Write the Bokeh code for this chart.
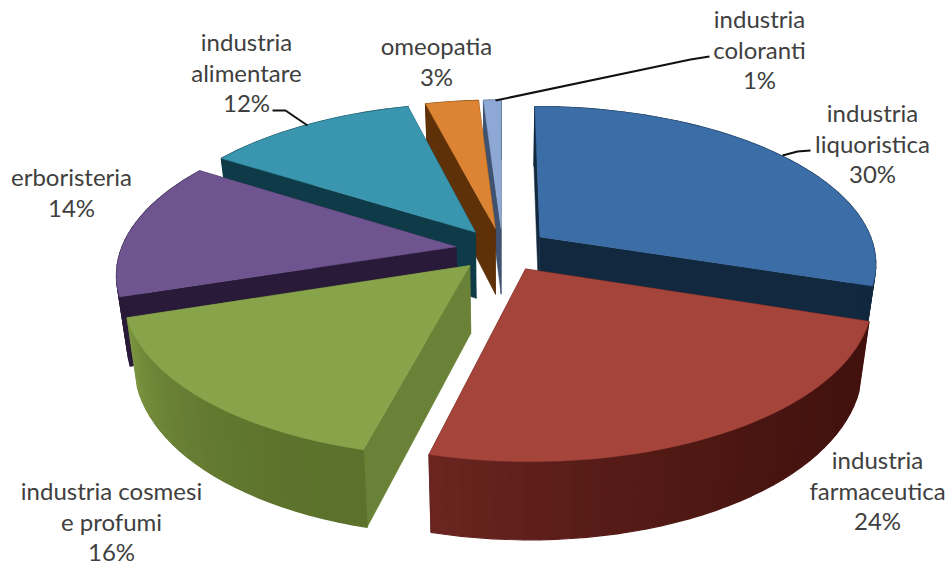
from math import sin, cos, pi

from bokeh.core.properties import value
from bokeh.embed import file_html
from bokeh.models import ColumnDataSource, Range1d
from bokeh.plotting import figure
from bokeh.resources import INLINE

# Shares of each sector, clockwise from twelve o'clock
sectors = ["industria liquoristica", "industria farmaceutica", "industria cosmesi e profumi",
           "erboristeria", "industria alimentare", "omeopatia", "industria coloranti"]
shares = [30, 24, 16, 14, 12, 3, 1]

# Colours: top face, flat cut face, and curved rim from its two ends
top_colors = ["#3b6da6", "#a5443a", "#87a44a", "#6f5590", "#3a95ae", "#dc8433", "#8da8d4"]
cut_colors = ["#12283f", "#4a1510", "#6a8237", "#281a38", "#0e3b47", "#5f3108", "#3f5270"]
rim_start = ["#12283f", "#43120e", "#5c722c", "#281a38", "#0e3b47", "#5f3108", "#3f5270"]
rim_end = ["#12283f", "#6a2520", "#7a9440", "#281a38", "#0e3b47", "#5f3108", "#3f5270"]

# Label text lines, anchor of the block, leader polyline
label_lines = [
    ["industria", "liquoristica", "30%"],
    ["industria", "farmaceutica", "24%"],
    ["industria cosmesi", "e profumi", "16%"],
    ["erboristeria", "14%"],
    ["industria", "alimentare", "12%"],
    ["omeopatia", "3%"],
    ["industria", "coloranti", "1%"],
]
label_centers = [(872, 112), (877, 459), (111, 490), (71, 176), (246, 41), (436, 45), (759, 18)]
leader_x = [[782, 797, 810], [], [], [], [272, 285, 307], [], [495, 690, 709]]
leader_y = [[155, 151, 150], [], [], [], [110, 110, 125], [], [100, 59, 56]]

# Projection of the pie onto the page
CX, CY = 502, 249
SCALE_X, SCALE_Y, TILT = 335, 155, 0.16
EXPLODE = 0.14
DEPTH, DEPTH_GROW, BOTTOM_SHRINK = 67, 0.053, 0.972


def project(wx, wy):
    w = 1 - TILT * wy
    return CX + SCALE_X * wx / w, CY + SCALE_Y * wy / w


def lower(pt):
    x, y = pt
    return CX + BOTTOM_SHRINK * (x - CX), y + DEPTH + DEPTH_GROW * (y - CY)


def blend(c0, c1, t):
    a = [int(c0[i:i + 2], 16) for i in (1, 3, 5)]
    b = [int(c1[i:i + 2], 16) for i in (1, 3, 5)]
    return "#%02x%02x%02x" % tuple(round(u + (v - u) * t) for u, v in zip(a, b))


p = figure(width=949, height=566, output_backend="svg", toolbar_location=None,
           x_range=Range1d(0, 949), y_range=Range1d(566, 0),
           min_border=0, outline_line_color=None, background_fill_color="white")
p.axis.visible = False
p.grid.visible = False


def face(xy, color, edge=0.5):
    xs, ys = zip(*xy)
    p.patch(list(xs), list(ys), fill_color=color, line_color=color, line_width=edge)


total = sum(shares)
starts = [sum(shares[:i]) / total * 2 * pi for i in range(len(shares))]


def draw_sector(i):
    a0 = starts[i]
    a1 = a0 + shares[i] / total * 2 * pi
    mid = (a0 + a1) / 2
    ox, oy = EXPLODE * sin(mid), -EXPLODE * cos(mid)
    apex = project(ox, oy)
    steps = max(3, int(shares[i] * 1.6))
    arc = []
    for k in range(steps + 1):
        a = a0 + (a1 - a0) * k / steps
        arc.append(project(ox + sin(a), oy - cos(a)))
    # Hidden faces first, then the front-facing ones, the top face last
    face([arc[-1], apex, lower(apex), lower(arc[-1])], cut_colors[i])
    face([arc[0], apex, lower(apex), lower(arc[0])], cut_colors[i])
    for k in range(steps):
        t = min(1, k / max(1, steps - 1))
        face([arc[k], arc[k + 1], lower(arc[k + 1]), lower(arc[k])],
             blend(rim_start[i], rim_end[i], t * t), edge=1.2)
    face([apex] + arc, top_colors[i])


# Back-to-front painting order
for i in [6, 5, 4, 3, 0, 2, 1]:
    draw_sector(i)

# Leader lines
for xs, ys in zip(leader_x, leader_y):
    if xs:
        p.line(xs, ys, line_color="#111111", line_width=2)

# Labels
LINE_HEIGHT = 30.5
for lines, (cx, first_y) in zip(label_lines, label_centers):
    src = ColumnDataSource(dict(x=[cx] * len(lines),
                                y=[first_y + LINE_HEIGHT * j for j in range(len(lines))],
                                t=lines))
    p.text("x", "y", text="t", source=src, text_align="center", text_baseline="middle",
           text_font=value("Lato"), text_font_size="24px", text_color="#404040")

open("out.html", "w").write(file_html(p, INLINE))
